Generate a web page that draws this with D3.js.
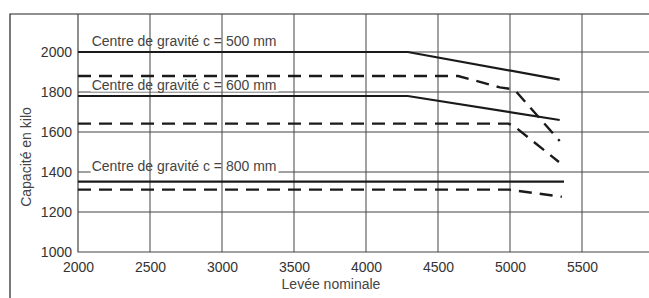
<!DOCTYPE html>
<html>
<head>
<meta charset="utf-8">
<script src="https://cdn.jsdelivr.net/npm/d3@7"></script>
<style>
  body { margin: 0; background: #fff; }
  svg { display: block; font-family: "Liberation Sans", Arial, sans-serif; }
</style>
</head>
<body>
<svg></svg>
<script>
const width = 649;
const height = 298;

// Données (levée en mm, capacité en kg)
const xTicks = [2000, 2500, 3000, 3500, 4000, 4500, 5000, 5500];
const yTicks = [1000, 1200, 1400, 1600, 1800, 2000];

const c500Solid = [[2000, 2000], [4290, 2000], [5345, 1862]];
const c500Dash = [[2000, 1880], [4640, 1880], [4930, 1823], [5010, 1815], [5045, 1800], [5345, 1555]];
const c600Solid = [[2000, 1780], [4290, 1780], [5345, 1660]];
const c600Dash = [[2000, 1642], [4990, 1642], [5030, 1628], [5340, 1450]];
const c800Solid = [[2000, 1352], [5375, 1352]];
const c800Dash = [[2000, 1312], [4990, 1312], [5360, 1276]];

const labels = [
  { text: "Centre de gravité c = 500 mm", x: 2095, y: 2030 },
  { text: "Centre de gravité c = 600 mm", x: 2095, y: 1812 },
  { text: "Centre de gravité c = 800 mm", x: 2095, y: 1405 }
];

const fontSize = 14;
const margin = { top: 14, right: 0, bottom: 46, left: 78 };

const svg = d3.select("svg")
  .attr("width", width)
  .attr("height", height);

const x = d3.scaleLinear()
  .domain([2000, 2000 + (width - margin.left) / 72 * 500])
  .range([margin.left, width]);

const y = d3.scaleLinear()
  .domain([1000, 2000])
  .range([252, 52]);

// cadre extérieur
svg.append("path")
  .attr("d", `M10,${height + 2} V${margin.top} H${width + 2}`)
  .attr("fill", "none")
  .attr("stroke", "#222")
  .attr("stroke-width", 1.2);

// grille horizontale
svg.append("g")
  .selectAll("line")
  .data(yTicks.slice(1))
  .join("line")
  .attr("x1", margin.left).attr("x2", width)
  .attr("y1", d => y(d)).attr("y2", d => y(d))
  .attr("stroke", "#444")
  .attr("stroke-width", 1);

// fonds blancs des étiquettes
const labelG = svg.append("g");
labels.forEach(l => {
  const t = labelG.append("text")
    .attr("x", x(l.x)).attr("y", y(l.y))
    .attr("font-size", fontSize)
    .text(l.text);
  const bb = t.node().getBBox();
  labelG.insert("rect", "text")
    .attr("x", bb.x - 1).attr("y", bb.y + 2)
    .attr("width", bb.width + 3).attr("height", bb.height - 3)
    .attr("fill", "#fff");
  t.remove();
});

// grille verticale
svg.append("g")
  .selectAll("line")
  .data(xTicks.slice(1))
  .join("line")
  .attr("x1", d => x(d)).attr("x2", d => x(d))
  .attr("y1", margin.top).attr("y2", y(1000))
  .attr("stroke", "#444")
  .attr("stroke-width", 1);

// axes
svg.append("path")
  .attr("d", `M${margin.left},${margin.top} V${y(1000)} H${width}`)
  .attr("fill", "none")
  .attr("stroke", "#444")
  .attr("stroke-width", 1.2);

const yAxis = d3.axisLeft(y).tickValues(yTicks).tickFormat(d3.format("d")).tickSize(0).tickPadding(6);
svg.append("g")
  .attr("transform", `translate(${margin.left},0)`)
  .call(yAxis)
  .call(g => g.select(".domain").remove())
  .selectAll("text")
  .attr("font-size", fontSize)
  .attr("font-family", "Liberation Sans, Arial, sans-serif")
  .attr("fill", "#333");

const xAxis = d3.axisBottom(x).tickValues(xTicks).tickFormat(d3.format("d")).tickSize(0).tickPadding(10);
svg.append("g")
  .attr("transform", `translate(0,${y(1000)})`)
  .call(xAxis)
  .call(g => g.select(".domain").remove())
  .selectAll("text")
  .attr("font-size", fontSize)
  .attr("font-family", "Liberation Sans, Arial, sans-serif")
  .attr("fill", "#333");

// titres des axes
svg.append("text")
  .attr("transform", "translate(31,157) rotate(-90)")
  .attr("text-anchor", "middle")
  .attr("font-size", fontSize)
  .attr("fill", "#444")
  .text("Capacité en kilo");

svg.append("text")
  .attr("x", 331).attr("y", 289)
  .attr("text-anchor", "middle")
  .attr("font-size", fontSize)
  .attr("fill", "#444")
  .text("Levée nominale");

// étiquettes
labels.forEach(l => {
  svg.append("text")
    .attr("x", x(l.x)).attr("y", y(l.y))
    .attr("font-size", fontSize)
    .attr("fill", "#444")
    .text(l.text);
});

// courbes
const line = d3.line().x(d => x(d[0])).y(d => y(d[1]));

[c500Solid, c600Solid, c800Solid].forEach(s => {
  svg.append("path")
    .datum(s)
    .attr("d", line)
    .attr("fill", "none")
    .attr("stroke", "#1a1a1a")
    .attr("stroke-width", 2.2);
});

[c500Dash, c600Dash, c800Dash].forEach(s => {
  svg.append("path")
    .datum(s)
    .attr("d", line)
    .attr("fill", "none")
    .attr("stroke", "#1a1a1a")
    .attr("stroke-width", 2.4)
    .attr("stroke-dasharray", "13,8");
});
</script>
</body>
</html>
